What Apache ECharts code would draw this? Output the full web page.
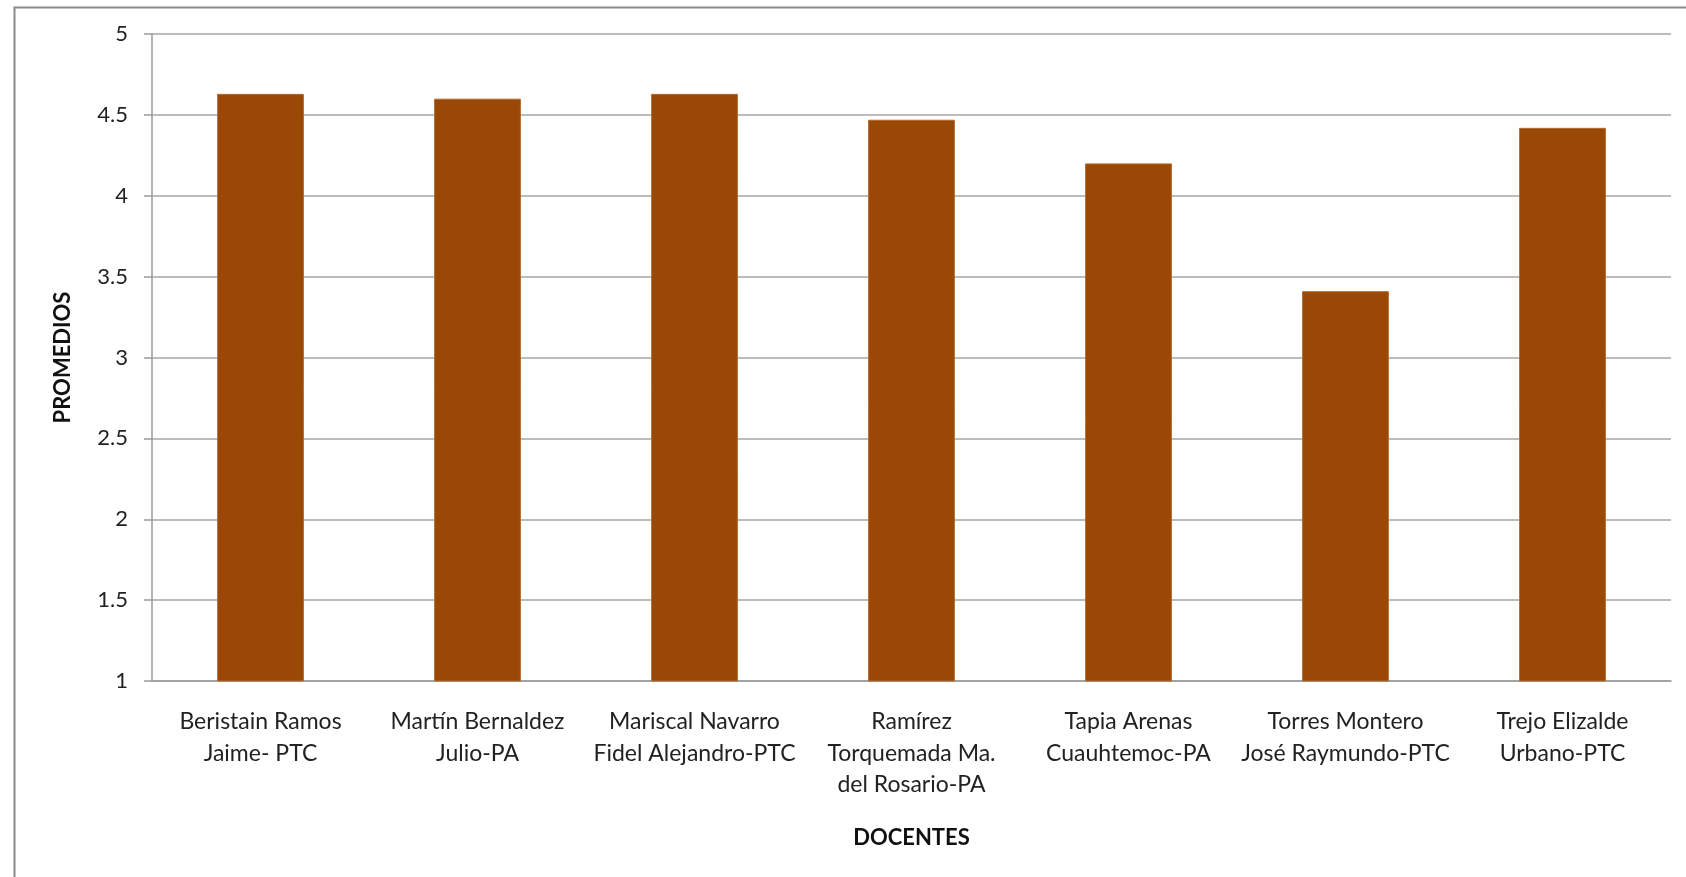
<!DOCTYPE html>
<html>
<head>
<meta charset="utf-8">
<script src="https://cdn.jsdelivr.net/npm/echarts@6/dist/echarts.min.js"></script>
<style>
html,body{margin:0;padding:0;background:#fff;}
#c{width:1686px;height:877px;}
</style>
</head>
<body>
<div id="c"></div>
<script>
const categories = [
  "Beristain Ramos\nJaime- PTC",
  "Martín Bernaldez\nJulio-PA",
  "Mariscal Navarro\nFidel Alejandro-PTC",
  "Ramírez\nTorquemada Ma.\ndel Rosario-PA",
  "Tapia Arenas\nCuauhtemoc-PA",
  "Torres Montero\nJosé Raymundo-PTC",
  "Trejo Elizalde\nUrbano-PTC"
];
const promedios = [4.63, 4.60, 4.63, 4.47, 4.20, 3.41, 4.42];
const yTicks = { min: 1, max: 5, interval: 0.5 };
const xTitle = "DOCENTES";
const yTitle = "PROMEDIOS";

const font = "Lato, 'Open Sans', sans-serif";
const chart = echarts.init(document.getElementById('c'), null, {renderer: 'canvas'});
chart.setOption({
  animation: false,
  backgroundColor: '#ffffff',
  graphic: [{
    type: 'rect', left: 12, top: 5,
    shape: {width: 1700, height: 900},
    style: {fill: 'none', stroke: '#8a8a8a', lineWidth: 2},
    silent: true, z: -1
  }],
  grid: {left: 152, right: 15, top: 34, bottom: 196, containLabel: false},
  xAxis: {
    type: 'category',
    data: categories,
    name: xTitle,
    nameLocation: 'middle',
    nameGap: 146,
    nameTextStyle: {fontFamily: font, fontSize: 22, fontWeight: 'bold', color: '#111'},
    axisLine: {show: true, lineStyle: {color: '#9a9a9a', width: 1.5}},
    axisTick: {show: false},
    axisLabel: {fontFamily: font, fontSize: 23, color: '#222', lineHeight: 31.5, margin: 25, interval: 0}
  },
  yAxis: {
    type: 'value',
    min: yTicks.min, max: yTicks.max, interval: yTicks.interval,
    name: yTitle,
    nameLocation: 'middle',
    nameGap: 78,
    nameRotate: 90,
    nameTextStyle: {fontFamily: font, fontSize: 22, fontWeight: 'bold', color: '#111'},
    axisLine: {show: true, lineStyle: {color: '#9a9a9a', width: 1.5}},
    axisTick: {show: true, length: 8, lineStyle: {color: '#9a9a9a', width: 1.5}},
    axisLabel: {fontFamily: font, fontSize: 22, color: '#222', margin: 24},
    splitLine: {show: true, lineStyle: {color: '#a6a6a6', width: 1.5}}
  },
  series: [{
    type: 'bar',
    data: promedios,
    barCategoryGap: '60%',
    itemStyle: {color: '#994806', borderColor: '#b36a2e', borderWidth: 1}
  }]
});
</script>
</body>
</html>
